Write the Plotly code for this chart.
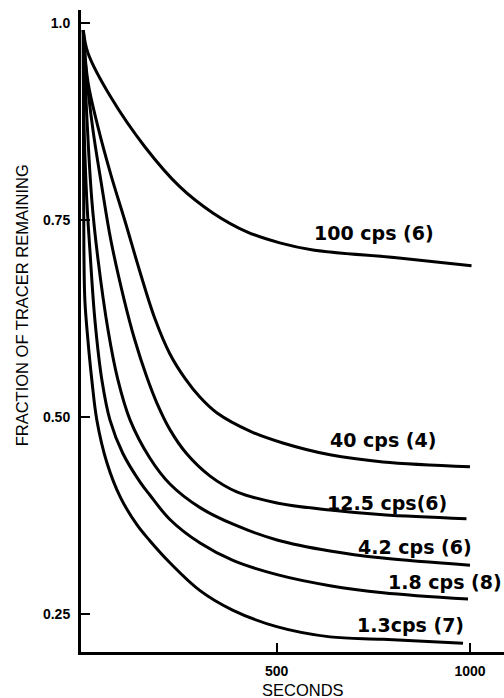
import plotly.graph_objects as go

# ---- data ----
series_names = ["100 cps (6)", "40 cps (4)", "12.5 cps(6)", "4.2 cps (6)", "1.8 cps (8)", "1.3cps (7)"]

t_100 = [0, 12, 71, 159, 250, 335, 423, 508, 594, 810, 1004]
f_100 = [0.991, 0.962, 0.906, 0.843, 0.792, 0.759, 0.735, 0.721, 0.712, 0.702, 0.692]

t_40 = [0, 12, 38, 71, 110, 146, 185, 224, 263, 302, 346, 431, 516, 638, 775, 1000]
f_40 = [0.991, 0.925, 0.868, 0.808, 0.745, 0.685, 0.625, 0.580, 0.549, 0.525, 0.505, 0.482, 0.467, 0.452, 0.443, 0.437]

t_12 = [0, 7, 25, 48, 71, 105, 133, 164, 190, 224, 268, 328, 397, 501, 638, 775, 991]
f_12 = [0.991, 0.940, 0.864, 0.792, 0.725, 0.650, 0.598, 0.551, 0.518, 0.484, 0.453, 0.425, 0.405, 0.391, 0.382, 0.376, 0.371]

t_4 = [0, 7, 22, 38, 64, 89, 121, 172, 224, 302, 392, 501, 638, 775, 1000]
f_4 = [0.991, 0.902, 0.775, 0.700, 0.610, 0.548, 0.496, 0.448, 0.415, 0.385, 0.363, 0.344, 0.330, 0.321, 0.312]

t_18 = [0, 1.6, 9, 17, 30, 48, 69, 102, 146, 172, 224, 302, 387, 501, 638, 775, 995]
f_18 = [0.991, 0.877, 0.775, 0.712, 0.623, 0.547, 0.496, 0.454, 0.418, 0.401, 0.370, 0.340, 0.318, 0.300, 0.286, 0.277, 0.269]

t_13 = [0, 0.5, 1.5, 4, 12, 22, 35, 61, 96, 139, 172, 224, 301, 386, 500, 638, 775, 982]
f_13 = [0.991, 0.839, 0.712, 0.648, 0.597, 0.547, 0.496, 0.442, 0.398, 0.363, 0.343, 0.315, 0.280, 0.255, 0.234, 0.221, 0.218, 0.213]

x_ticks = [500, 1000]
x_tick_labels = ["500", "1000"]
y_ticks = [0.25, 0.50, 0.75, 1.0]
y_tick_labels = ["0.25", "0.50", "0.75", "1.0"]

# label anchor positions (layout)
label_x = [751, 775, 785, 857, 935, 847]
label_y = [0.733, 0.471, 0.391, 0.335, 0.291, 0.236]

xs = [t_100, t_40, t_12, t_4, t_18, t_13]
ys = [f_100, f_40, f_12, f_4, f_18, f_13]

fig = go.Figure()
for name, x, y in zip(series_names, xs, ys):
    fig.add_trace(go.Scatter(x=x, y=y, mode="lines", name=name,
                             line=dict(color="black", width=3, shape="spline", smoothing=1.0),
                             showlegend=False, hoverinfo="skip"))

for name, lx, ly in zip(series_names, label_x, label_y):
    fig.add_annotation(x=lx, y=ly, text=name, showarrow=False,
                       font=dict(family="DejaVu Sans", size=19, color="black", weight="bold"),
                       xanchor="center", yanchor="middle")

fig.add_annotation(xref="paper", yref="paper", x=-0.1395, y=0.540, text="FRACTION OF TRACER REMAINING",
                   textangle=-90, showarrow=False, xanchor="center", yanchor="middle",
                   font=dict(family="Liberation Sans", size=16.5, color="black"))
fig.add_annotation(xref="paper", yref="paper", x=(303 - 81) / 423, y=-(690 - 652) / 642, text="SECONDS",
                   showarrow=False, xanchor="center", yanchor="middle",
                   font=dict(family="Liberation Sans", size=16.5, color="black"))

fig.update_layout(
    width=504, height=698,
    margin=dict(l=81, r=0, t=10, b=46),
    paper_bgcolor="white", plot_bgcolor="white",
    font=dict(family="Liberation Sans", color="black"),
    xaxis=dict(range=[-6, 1088], tickvals=x_ticks, ticktext=x_tick_labels,
               ticks="inside", ticklen=9, tickwidth=2, tickcolor="black",
               showline=True, linecolor="black", linewidth=3,
               showgrid=False, zeroline=False, ticklabelstandoff=4,
               tickfont=dict(size=14, color="black", weight="bold")),
    yaxis=dict(range=[0.2018, 1.0165], tickvals=y_ticks, ticktext=y_tick_labels,
               ticks="inside", ticklen=9, tickwidth=2, tickcolor="black",
               showline=True, linecolor="black", linewidth=3,
               showgrid=False, zeroline=False, ticklabelstandoff=5,
               tickfont=dict(size=14, color="black", weight="bold")),
)

fig.write_html("out.html")
